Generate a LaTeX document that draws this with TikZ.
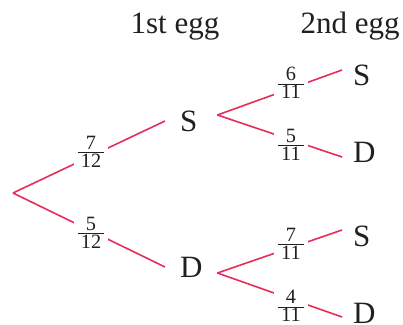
\documentclass[tikz,border=0pt]{standalone}
\usepackage{amsmath}
\usepackage{fontspec}
\setmainfont{Liberation Serif}
\usepackage{xcolor}
\usetikzlibrary{backgrounds}
\definecolor{treered}{RGB}{230,45,90}
\definecolor{ink}{RGB}{35,31,32}
\newcommand{\prob}[2]{$\frac{\text{\hspace{3pt}#1\hspace{3pt}}}{\text{\hspace{3pt}#2\hspace{3pt}}}$}

\begin{document}
\begin{tikzpicture}[x=1pt, y=-1pt,
        branch/.style={treered, line width=1.6pt},
        prob/.style={fill=white, inner xsep=3pt, inner ysep=0pt, text=ink, font=\fontsize{29}{34}\selectfont},
        outcome/.style={anchor=west, text=ink, font=\fontsize{31}{36}\selectfont, text width=22pt, align=left, inner ysep=0pt},
        heading/.style={anchor=base, text=ink, font=\fontsize{31}{36}\selectfont}
    ]
        \useasboundingbox (0,0) rectangle (403,324);

        % Headings
        \node[heading] (first) at (175,33) {1st egg};
        \node[heading] (second) at (350,33) {2nd egg};

        % 1st egg
        \coordinate (root) at (13,193);
        \node[outcome, inner xsep=15pt] (S) at (165,121) {S};
        \node[outcome, inner xsep=15pt] (D) at (165,267) {D};
        \coordinate (Sv) at ([yshift=6pt]S.east);
        \coordinate (Dv) at ([yshift=-6pt]D.east);
        \node[prob] (pS) at (91,152) {\prob{7}{12}};
        \node[prob] (pD) at (91,233) {\prob{5}{12}};

        % 2nd egg
        \node[outcome, inner xsep=11pt] (SS) at (342,75) {S};
        \node[outcome, inner xsep=11pt] (SD) at (342,152) {D};
        \node[outcome, inner xsep=11pt] (DS) at (342,236) {S};
        \node[outcome, inner xsep=11pt] (DD) at (342,313) {D};
        \node[prob] (pSS) at (291,83) {\prob{6}{11}};
        \node[prob] (pSD) at (291,145) {\prob{5}{11}};
        \node[prob] (pDS) at (291,244) {\prob{7}{11}};
        \node[prob] (pDD) at (291,306) {\prob{4}{11}};

        % Branches
        \begin{scope}[on background layer]
            \draw[branch] (root) -- (S.west);
            \draw[branch] (root) -- (D.west);
            \draw[branch] (Sv) -- ([yshift=5pt]SS.west);
            \draw[branch] (Sv) -- ([yshift=-5pt]SD.west);
            \draw[branch] (Dv) -- ([yshift=6pt]DS.west);
            \draw[branch] (Dv) -- ([yshift=-4pt]DD.west);
        \end{scope}
    \end{tikzpicture}
\end{document}
